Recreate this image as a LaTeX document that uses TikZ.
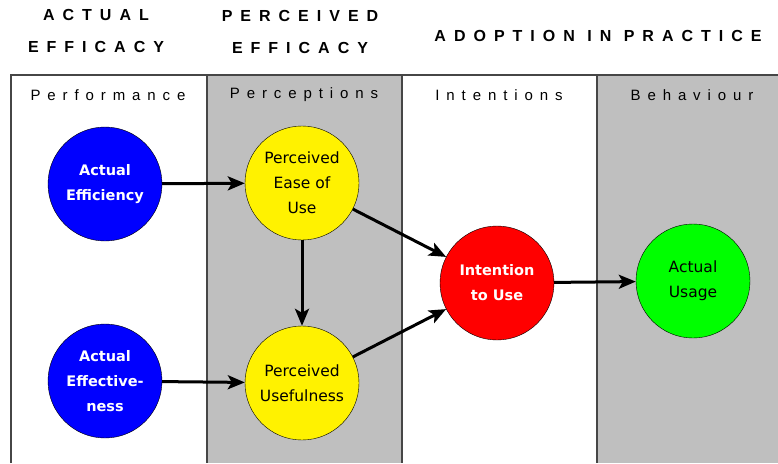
\documentclass[tikz,border=0pt]{standalone}
\usepackage{fontspec}
\setmainfont{Liberation Sans}
\newfontfamily\headfont[LetterSpace=50]{Liberation Sans}
\newfontfamily\colfont[LetterSpace=46]{Liberation Sans}
\newfontfamily\circfont{DejaVu Sans}
\usetikzlibrary{arrows.meta}
\definecolor{panelgray}{RGB}{191,191,191}
\definecolor{rimgray}{RGB}{70,70,70}
\tikzset{
  concept/.style={circle, draw=black, thin, minimum size=114pt, inner sep=0pt, align=center,
    font=\circfont\fontsize{15.5}{25}\selectfont},
  darkconcept/.style={concept, text=white, font=\circfont\bfseries\fontsize{14.5}{25}\selectfont},
  flow/.style={-{Stealth[length=17pt,width=14pt,inset=4pt]}, line width=3pt},
  heading/.style={align=center, font=\headfont\bfseries\fontsize{16}{32}\selectfont},
  colhead/.style={font=\colfont\fontsize{15}{16}\selectfont},
}
\begin{document}
\begin{tikzpicture}[x=1pt,y=-1pt]
\useasboundingbox (0,0) rectangle (778,463);
% panels
\fill[panelgray] (207,75) rectangle (402,463);
\fill[panelgray] (597,75) rectangle (778,463);
\draw[rimgray, line width=1.6pt] (11,463) -- (11,75) -- (778,75);
\foreach \X in {207,402,597}{
    \draw[rimgray, line width=1.6pt] (\X,75) -- (\X,463);
}
% headings
\node[heading] (hactual) at (96,31) {ACTUAL\\EFFICACY};
\node[heading] (hperceived) at (300,32) {PERCEIVED\\EFFICACY};
\node[heading] (hadoption) at (598,36) {ADOPTION IN PRACTICE};
\node[colhead] (cperf) at (108,95) {Performance};
\node[colhead] (cperc) at (304,95) {Perceptions};
\node[colhead] (cint) at (499,95) {Intentions};
\node[colhead] (cbeh) at (692,95) {Behaviour};
% concepts
\node[darkconcept, fill=blue] (effic) at (105,184) {Actual\\Efficiency};
\node[darkconcept, fill=blue] (effect) at (105,381) {Actual\\Effective-\\ness};
\node[concept, fill=yellow] (ease) at (302,183) {Perceived\\Ease of\\Use};
\node[concept, fill=yellow] (useful) at (302,383) {Perceived\\Usefulness};
\node[darkconcept, fill=red] (intent) at (497,283) {Intention\\to Use};
\node[concept, fill=green] (usage) at (693,281) {Actual\\Usage};
% links
\draw[flow] (effic) -- (ease);
\draw[flow] (effect) -- (useful);
\draw[flow] (ease) -- (useful);
\draw[flow] (ease) -- (intent);
\draw[flow] (useful) -- (intent);
\draw[flow] (intent) -- (usage);
\end{tikzpicture}
\end{document}
